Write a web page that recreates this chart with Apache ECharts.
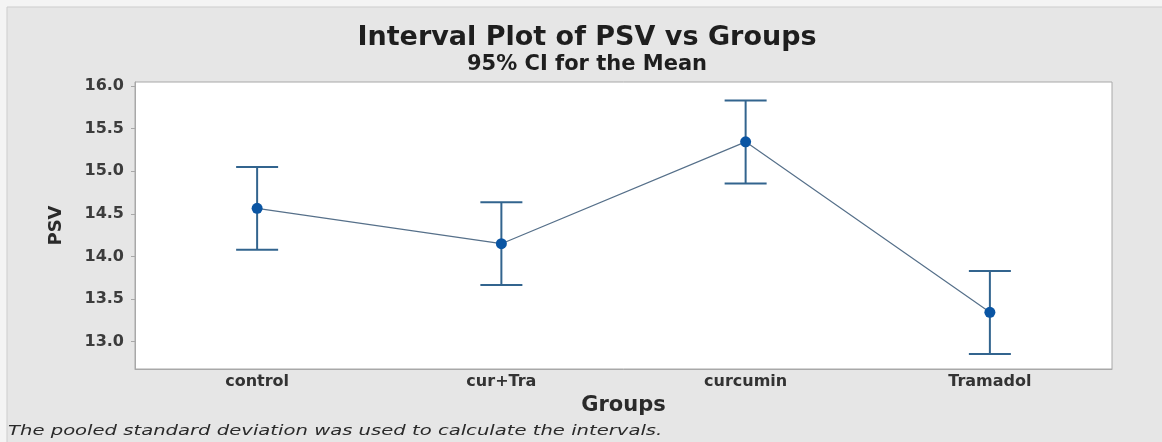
<!DOCTYPE html>
<html>
<head>
<meta charset="utf-8">
<script src="https://cdn.jsdelivr.net/npm/echarts@6/dist/echarts.min.js"></script>
<style>
  html, body { margin: 0; padding: 0; background: #f4f4f4; }
  #chart { width: 1162px; height: 442px; }
</style>
</head>
<body>
<div id="chart"></div>
<script>
// groups on the x axis
var groups = ['control', 'cur+Tra', 'curcumin', 'Tramadol'];
// means and 95% CI bounds
var means = [14.565, 14.15, 15.345, 13.345];
var lower = [14.08, 13.665, 14.855, 12.855];
var upper = [15.05, 14.635, 15.83, 13.83];
var yTicks = [13.0, 13.5, 14.0, 14.5, 15.0, 15.5, 16.0];

var ciData = [];
for (var i = 0; i < groups.length; i++) {
    ciData.push([i, lower[i], upper[i]]);
}

var chart = echarts.init(document.getElementById('chart'));

var option = {
    backgroundColor: '#f4f4f4',
    textStyle: { fontFamily: 'DejaVu Sans' },
    graphic: [
        {
            type: 'rect',
            z: -10,
            shape: { x: 7, y: 7, width: 1160, height: 440 },
            style: { fill: '#e6e6e6', stroke: '#cdcdcd', lineWidth: 1 }
        },
        {
            type: 'text',
            x: 8,
            y: 424,
            scaleX: 1.4,
            style: {
                text: 'The pooled standard deviation was used to calculate the intervals.',
                font: 'italic 14px "DejaVu Sans"',
                fill: '#2a2a2a'
            }
        }
    ],
    title: {
        text: 'Interval Plot of PSV vs Groups',
        subtext: '95% CI for the Mean',
        left: 582,
        textAlign: 'center',
        top: 19,
        itemGap: 3,
        textStyle: { fontSize: 27, fontWeight: 'bold', color: '#1e1e1e', fontFamily: 'DejaVu Sans' },
        subtextStyle: { fontSize: 21, fontWeight: 'bold', color: '#1e1e1e', fontFamily: 'DejaVu Sans' }
    },
    grid: {
        left: 135,
        top: 82,
        right: 50,
        bottom: 73,
        show: true,
        backgroundColor: '#ffffff',
        borderColor: '#a8a8a8',
        borderWidth: 1
    },
    xAxis: {
        type: 'category',
        data: groups,
        boundaryGap: true,
        name: 'Groups',
        nameLocation: 'middle',
        nameGap: 22,
        nameTextStyle: { fontSize: 21, fontWeight: 'bold', color: '#2a2a2a' },
        axisLine: { lineStyle: { color: '#a8a8a8' } },
        axisTick: { alignWithLabel: true, length: 3, lineStyle: { color: '#a8a8a8' } },
        axisLabel: { fontSize: 16, fontWeight: 'bold', color: '#333', margin: 5 },
        splitLine: { show: false }
    },
    yAxis: {
        type: 'value',
        min: 12.68,
        max: 16.047,
        name: 'PSV',
        nameLocation: 'middle',
        nameGap: 70,
        nameTextStyle: { fontSize: 18, fontWeight: 'bold', color: '#2a2a2a' },
        axisLine: { show: true, lineStyle: { color: '#a8a8a8' } },
        axisTick: { show: true, length: 4, customValues: yTicks, lineStyle: { color: '#a8a8a8' } },
        axisLabel: {
            customValues: yTicks,
            fontSize: 16,
            fontWeight: 'bold',
            color: '#3c3c3c',
            margin: 11,
            formatter: function (v) { return v.toFixed(1); }
        },
        splitLine: { show: false }
    },
    series: [
        {
            name: 'CI',
            type: 'custom',
            data: ciData,
            z: 2,
            renderItem: function (params, api) {
                var x = api.value(0);
                var lo = api.coord([x, api.value(1)]);
                var hi = api.coord([x, api.value(2)]);
                var half = 21;
                var style = { stroke: '#32648e', lineWidth: 2 };
                return {
                    type: 'group',
                    children: [
                        { type: 'line', shape: { x1: lo[0], y1: lo[1], x2: hi[0], y2: hi[1] }, style: style },
                        { type: 'line', shape: { x1: hi[0] - half, y1: hi[1], x2: hi[0] + half, y2: hi[1] }, style: style },
                        { type: 'line', shape: { x1: lo[0] - half, y1: lo[1], x2: lo[0] + half, y2: lo[1] }, style: style }
                    ]
                };
            }
        },
        {
            name: 'Mean',
            type: 'line',
            data: means,
            z: 3,
            symbol: 'circle',
            symbolSize: 11,
            lineStyle: { color: '#56708a', width: 1.2 },
            itemStyle: { color: '#0a55a3' }
        }
    ]
};

chart.setOption(option);
</script>
</body>
</html>
